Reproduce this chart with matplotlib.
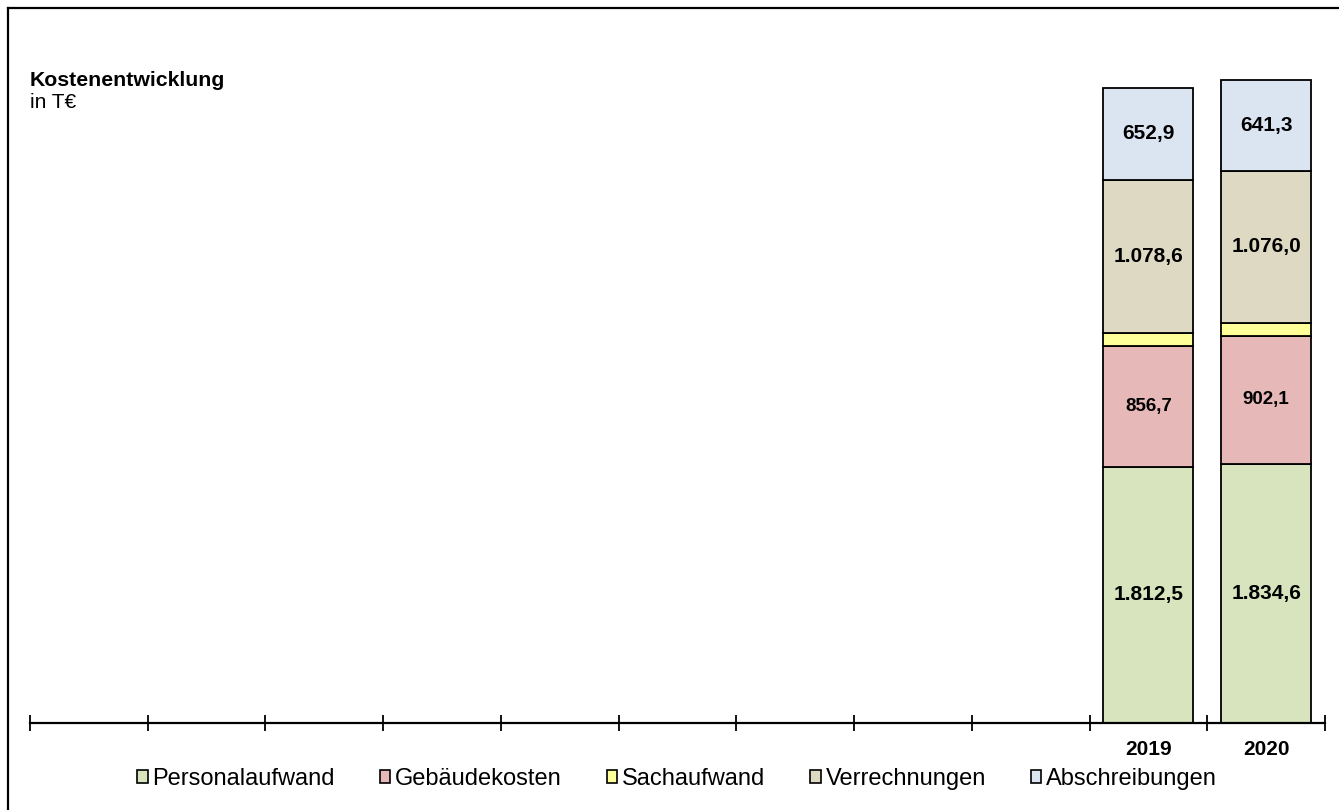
import numpy as np
import matplotlib.pyplot as plt
from matplotlib.patches import Patch
from matplotlib.lines import Line2D

plt.rcParams['font.family'] = ['Liberation Sans', 'DejaVu Sans']

# eleven year slots, only the last two carry data
slots = ["", "", "", "", "", "", "", "", "", "2019", "2020"]
years = ["2019", "2020"]
series = ["Personalaufwand", "Gebäudekosten", "Sachaufwand", "Verrechnungen", "Abschreibungen"]
personal = [1812.5, 1834.6]
gebaeude = [856.7, 902.1]
sach = [91.0, 93.0]
verrechnung = [1078.6, 1076.0]
abschreibung = [652.9, 641.3]
colors = ["#D7E4BD", "#E6B9B8", "#FFFF99", "#DDD9C3", "#DBE5F1"]

values = [personal, gebaeude, sach, verrechnung, abschreibung]
show_label = [True, True, False, True, True]
label_size = [15, 13.5, 0, 15, 15]

fig = plt.figure(figsize=(13.39, 8.10), dpi=100)
ax = fig.add_axes([30 / 1339, 87 / 810, 1295 / 1339, 712 / 810])

x = np.arange(len(slots))[-2:]
bottom = np.zeros(2)
for vals, col, show, fs in zip(values, colors, show_label, label_size):
    vals = np.array(vals)
    ax.bar(x, vals, width=0.765, bottom=bottom, color=col, edgecolor="black", linewidth=1.3, zorder=2)
    if show:
        for xi, b, v in zip(x, bottom, vals):
            txt = f"{v:,.1f}".replace(",", "X").replace(".", ",").replace("X", ".")
            ax.text(xi, b + v / 2, txt, ha="center", va="center", fontsize=fs, fontweight="bold")
    bottom += vals

ax.set_xlim(-0.5, len(slots) - 0.5)
ax.set_ylim(0, 5035)
ax.set_xticks(np.arange(len(slots)))
ax.set_xticklabels(slots, fontsize=15, fontweight="bold")
ax.set_xticks(np.arange(len(slots) + 1) - 0.5, minor=True)
ax.tick_params(axis="x", which="major", length=0, pad=12)
ax.tick_params(axis="x", which="minor", direction="inout", length=11, width=1.3)
ax.set_yticks([])
for s in ["left", "top", "right"]:
    ax.spines[s].set_visible(False)
ax.spines["bottom"].set_linewidth(1.6)

fig.text(30 / 1339, 1 - 81 / 810, "Kostenentwicklung", fontsize=15.3, fontweight="bold", va="center")
fig.text(30 / 1339, 1 - 103 / 810, "in T€", fontsize=15, va="center")

handles = [Patch(facecolor=c, edgecolor="black", linewidth=1.2) for c in colors]
fig.legend(handles, series, loc="center", bbox_to_anchor=(677 / 1339, 1 - 779 / 810), ncol=5,
           frameon=False, fontsize=17, handlelength=0.45, handleheight=0.45, handletextpad=0.2,
           columnspacing=1.9)

# outer frame lines
fig.add_artist(Line2D([8 / 1339, 8 / 1339], [0, 1 - 8 / 810], transform=fig.transFigure, color="black", linewidth=1.6))
fig.add_artist(Line2D([8 / 1339, 1], [1 - 8 / 810, 1 - 8 / 810], transform=fig.transFigure, color="black", linewidth=1.6))

fig.savefig("out.png", dpi=100)
